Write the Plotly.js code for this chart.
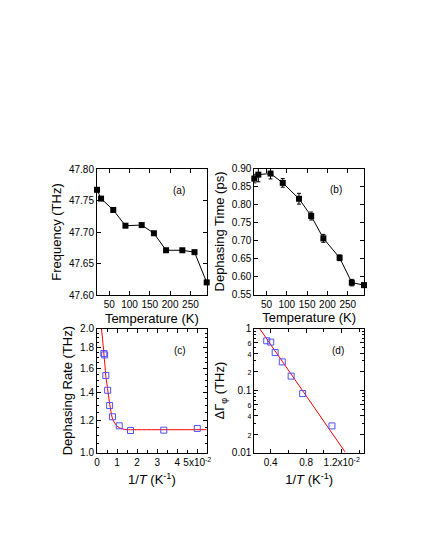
<!DOCTYPE html>
<html>
<head>
<meta charset="utf-8">
<script src="https://cdn.plot.ly/plotly-3.0.1.min.js"></script>
<style>
  body { margin: 0; background: #fff; }
  #chart { width: 425px; height: 550px; }
</style>
</head>
<body>
<div id="chart"></div>
<script>
// values
var temperature = [20, 30, 60, 90, 130, 160, 190, 230, 260, 290];
var frequency = [47.767, 47.753, 47.735, 47.710, 47.711, 47.698, 47.671, 47.671, 47.668, 47.620];
var dephasingTime = [0.872, 0.883, 0.886, 0.860, 0.816, 0.768, 0.706, 0.652, 0.583, 0.576];
var dephasingTimeErr = [0.012, 0.020, 0.015, 0.012, 0.015, 0.011, 0.011, 0.008, 0.009, 0.006];

var invT = [0.0500, 0.0333, 0.0167, 0.0111, 0.0077, 0.0063, 0.0053, 0.0044, 0.0038, 0.0034];
var dephasingRate = [1.145, 1.134, 1.132, 1.162, 1.222, 1.301, 1.417, 1.538, 1.726, 1.740];
var rateFitX = [0.0022, 0.0028, 0.00335, 0.0040, 0.00435, 0.0050, 0.0055, 0.0067, 0.0080, 0.0105, 0.0138, 0.020, 0.030, 0.0547];
var rateFitY = [2.00, 1.88, 1.754, 1.62, 1.541, 1.46, 1.403, 1.28, 1.20, 1.155, 1.139, 1.137, 1.137, 1.137];

var invTHigh = [0.0109, 0.0076, 0.0063, 0.0053, 0.0045, 0.0040, 0.00355];
var deltaRate = [0.027, 0.0895, 0.171, 0.29, 0.41, 0.604, 0.634];
var deltaFitX = [0.00274, 0.01237];
var deltaFitY = [1.0, 0.0103];

var rateTicks = [1.0, 1.2, 1.4, 1.6, 1.8, 2.0];
var rateMinor = [1.05, 1.1, 1.15, 1.25, 1.3, 1.35, 1.45, 1.5, 1.55, 1.65, 1.7, 1.75, 1.85, 1.9, 1.95];
var invTTicks = [0, 0.01, 0.02, 0.03, 0.04, 0.05];
var invTLabels = ['0', '1', '2', '3', '4', '5x10<sup>-2</sup>'];
var invTHighTicks = [0.004, 0.008, 0.012];
var invTHighLabels = ['0.4', '0.8', '1.2x10<sup>-2</sup>'];
var deltaTicks = [0.01, 0.02, 0.04, 0.06, 0.1, 0.2, 0.4, 0.6, 1];
var deltaLabels = ['0.01', '<span style="font-size:7px">2</span>', '<span style="font-size:7px">4</span>',
  '<span style="font-size:7px">6</span>', '0.1', '<span style="font-size:7px">2</span>',
  '<span style="font-size:7px">4</span>', '<span style="font-size:7px">6</span>', '1'];

var W = 425, H = 550;
function dx(a, b) { return [a / W, b / W]; }
function dy(top, bottom) { return [1 - bottom / H, 1 - top / H]; }

function axis(extra) {
  var base = {
    showline: true, linecolor: 'black', linewidth: 1, mirror: 'ticks',
    ticks: 'inside', ticklen: 4, tickcolor: 'black', tickwidth: 1,
    showgrid: false, zeroline: false,
    tickfont: {size: 10, color: 'black'},
    title: {font: {size: 13, color: 'black'}}
  };
  for (var k in extra) base[k] = extra[k];
  return base;
}

var freqTrace = {
  x: temperature, y: frequency, xaxis: 'x', yaxis: 'y',
  type: 'scatter', mode: 'lines+markers', cliponaxis: false,
  line: {color: 'black', width: 1},
  marker: {symbol: 'square', size: 6, color: 'black'}
};

var timeTrace = {
  x: temperature, y: dephasingTime, xaxis: 'x2', yaxis: 'y2',
  type: 'scatter', mode: 'lines+markers', cliponaxis: false,
  error_y: {type: 'data', array: dephasingTimeErr, visible: true, color: 'black', thickness: 1, width: 2},
  line: {color: 'black', width: 1},
  marker: {symbol: 'square', size: 6, color: 'black'}
};

var rateFitTrace = {
  x: rateFitX, y: rateFitY, xaxis: 'x3', yaxis: 'y3',
  type: 'scatter', mode: 'lines',
  line: {color: 'rgb(255, 0, 0)', width: 1, shape: 'spline'}
};

var rateTrace = {
  x: invT, y: dephasingRate, xaxis: 'x3', yaxis: 'y3',
  type: 'scatter', mode: 'markers', cliponaxis: false,
  marker: {symbol: 'square-open', size: 6, color: 'rgb(80, 80, 255)', line: {width: 1}}
};

var deltaFitTrace = {
  x: deltaFitX, y: deltaFitY, xaxis: 'x4', yaxis: 'y4',
  type: 'scatter', mode: 'lines',
  line: {color: 'rgb(255, 0, 0)', width: 1}
};

var deltaTrace = {
  x: invTHigh, y: deltaRate, xaxis: 'x4', yaxis: 'y4',
  type: 'scatter', mode: 'markers', cliponaxis: false,
  marker: {symbol: 'square-open', size: 6, color: 'rgb(80, 80, 255)', line: {width: 1}}
};

var data = [freqTrace, timeTrace, rateFitTrace, rateTrace, deltaFitTrace, deltaTrace];

var label = function (text, xref, yref, x, y) {
  return {text: text, xref: xref, yref: yref, x: x, y: y, showarrow: false,
    font: {size: 10, color: 'black'}};
};

var layout = {
  width: W, height: H,
  margin: {l: 0, r: 0, t: 0, b: 0},
  paper_bgcolor: 'white', plot_bgcolor: 'white',
  showlegend: false,
  font: {family: '"Liberation Sans", Arial, sans-serif', color: 'black'},
  xaxis: axis({domain: dx(97, 206.7), anchor: 'y', range: [20, 290], tickvals: [50, 100, 150, 200, 250],
    title: {text: 'Temperature (K)', font: {size: 13}, standoff: 4}}),
  yaxis: axis({domain: dy(169, 295), anchor: 'x', range: [47.60, 47.80], dtick: 0.05, tickformat: '.2f',
    title: {text: 'Frequency (THz)', font: {size: 13}, standoff: 4}}),
  xaxis2: axis({domain: dx(254.3, 364), anchor: 'y2', range: [20, 290], tickvals: [50, 100, 150, 200, 250],
    title: {text: 'Temperature (K)', font: {size: 13}, standoff: 4}}),
  yaxis2: axis({domain: dy(168.5, 294.5), anchor: 'x2', range: [0.55, 0.90], dtick: 0.05, tickformat: '.2f',
    title: {text: 'Dephasing Time (ps)', font: {size: 13}, standoff: 4}}),
  xaxis3: axis({domain: dx(97, 206.7), anchor: 'y3', range: [0, 0.0547], tickvals: invTTicks, ticktext: invTLabels,
    minor: {dtick: 0.005, ticks: 'inside', ticklen: 3, tickcolor: 'black'},
    title: {text: '1/<i>T</i> (K<sup>-1</sup>)', font: {size: 13}, standoff: 8}}),
  yaxis3: axis({domain: dy(328.5, 452.7), anchor: 'x3', type: 'log', range: [0, Math.log10(2)],
    tickvals: rateTicks, tickformat: '.1f',
    minor: {tickvals: rateMinor, ticks: 'inside', ticklen: 2, tickcolor: 'black'},
    title: {text: 'Dephasing Rate (THz)', font: {size: 13}, standoff: 4}}),
  xaxis4: axis({domain: dx(254.3, 364), anchor: 'y4', range: [0.00215, 0.01451], tickvals: invTHighTicks, ticktext: invTHighLabels,
    minor: {dtick: 0.002, tick0: 0, ticks: 'inside', ticklen: 3, tickcolor: 'black'},
    title: {text: '1/<i>T</i> (K<sup>-1</sup>)', font: {size: 13}, standoff: 8}}),
  yaxis4: axis({domain: dy(328.5, 452.7), anchor: 'x4', type: 'log', range: [-2, 0],
    tickvals: deltaTicks, ticktext: deltaLabels,
    minor: {dtick: 'D1', ticks: 'inside', ticklen: 2, tickcolor: 'black'},
    title: {text: 'ΔΓ<sub>φ</sub> (THz)', font: {size: 13}, standoff: 4}}),
  annotations: [
    label('(a)', 'x domain', 'y domain', 0.82, 0.89),
    label('(b)', 'x2 domain', 'y2 domain', 0.82, 0.89),
    label('(c)', 'x3 domain', 'y3 domain', 0.83, 0.88),
    label('(d)', 'x4 domain', 'y4 domain', 0.84, 0.88)
  ]
};

Plotly.newPlot('chart', data, layout, {displayModeBar: false, staticPlot: true});
</script>
</body>
</html>
